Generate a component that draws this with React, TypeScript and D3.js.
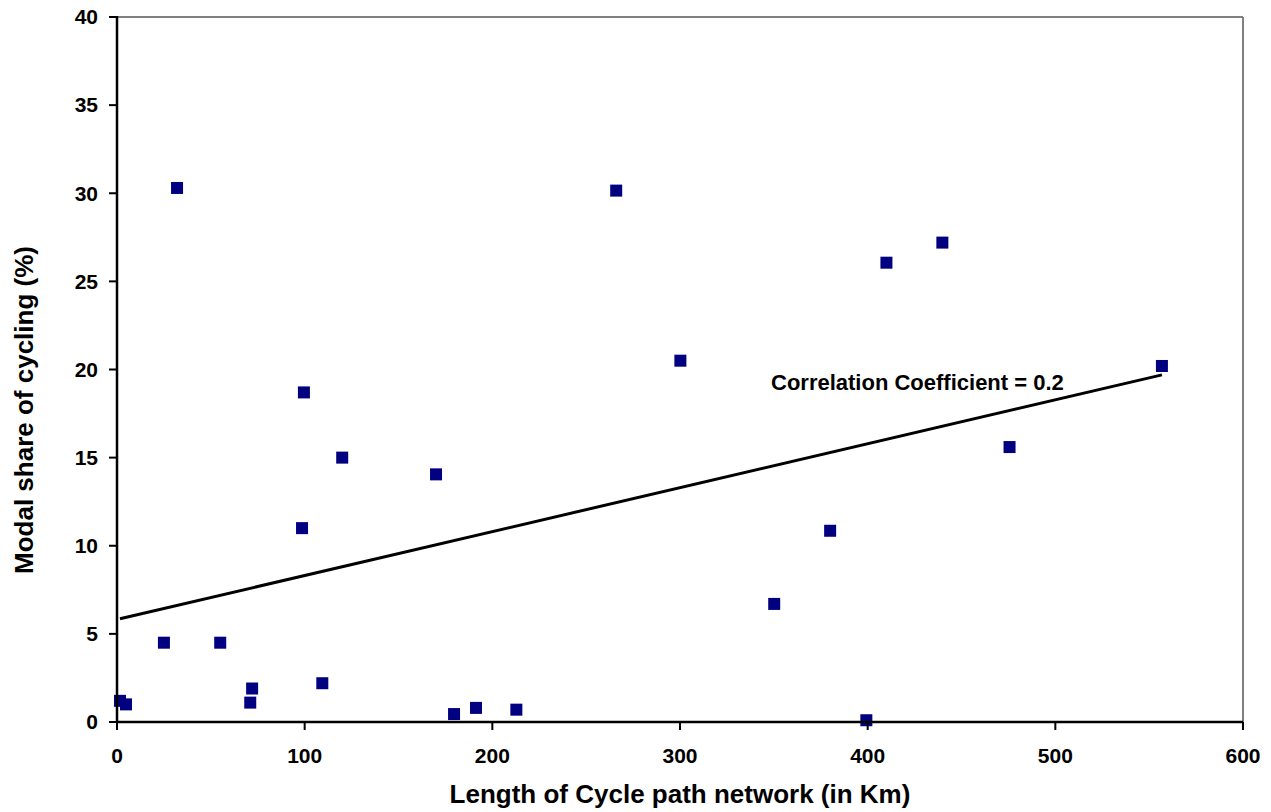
import React from "react";
import * as d3 from "d3";

const pathLengthKm: number[] = [1.6, 4.8, 25, 32, 55, 71, 72, 98.6, 99.6, 109.4, 120, 170, 179.6, 191.3, 212.8, 266, 300.2, 350.2, 380, 399.3, 410, 439.8, 475.6, 556.8];
const modalShare: number[] = [1.2, 1.0, 4.5, 30.3, 4.5, 1.1, 1.9, 11.0, 18.7, 2.2, 15.0, 14.05, 0.45, 0.8, 0.7, 30.15, 20.5, 6.7, 10.85, 0.1, 26.06, 27.2, 15.6, 20.2];
const xTicks: number[] = [0, 100, 200, 300, 400, 500, 600];
const yTicks: number[] = [0, 5, 10, 15, 20, 25, 30, 35, 40];
const xTitle = "Length of Cycle path network (in Km)";
const yTitle = "Modal share of cycling (%)";
const annotation = "Correlation Coefficient = 0.2";

const W = 1271;
const H = 812;
const L = 117, R = 1243, T = 17, B = 722;
const FONT = "'Liberation Sans', Arial, sans-serif";

export default function App() {
  const x = d3.scaleLinear().domain([0, 600]).range([L, R]);
  const y = d3.scaleLinear().domain([0, 40]).range([B, T]);

  const n = pathLengthKm.length;
  const mx = d3.mean(pathLengthKm) as number;
  const my = d3.mean(modalShare) as number;
  let sxy = 0, sxx = 0;
  for (let i = 0; i < n; i++) {
    sxy += (pathLengthKm[i] - mx) * (modalShare[i] - my);
    sxx += (pathLengthKm[i] - mx) ** 2;
  }
  const slope = sxy / sxx;
  const icpt = my - slope * mx;
  const [x0, x1] = d3.extent(pathLengthKm) as [number, number];
  const trend = d3.line<number>().x((v) => x(v)).y((v) => y(icpt + slope * v))([x0, x1]) as string;

  const size = 12;

  return (
    <svg width={W} height={H} style={{ position: "absolute", left: 0, top: 0, background: "#fff" }} fontFamily={FONT}>
      <rect x={0} y={0} width={W} height={H} fill="#fff" />
      <line x1={L} y1={T} x2={R} y2={T} stroke="#808080" strokeWidth={2} />
      <line x1={R} y1={T} x2={R} y2={B} stroke="#808080" strokeWidth={2} />
      <path d={trend} stroke="#000" strokeWidth={3} fill="none" />
      {pathLengthKm.map((v, i) => (
        <rect key={i} x={x(v) - size / 2} y={y(modalShare[i]) - size / 2} width={size} height={size} fill="#000080" />
      ))}
      <line x1={L} y1={T - 1} x2={L} y2={B + 1} stroke="#000" strokeWidth={2.5} />
      <line x1={L - 1} y1={B} x2={R} y2={B} stroke="#000" strokeWidth={2.5} />
      {yTicks.map((t) => (
        <g key={"y" + t}>
          <line x1={L - 8} x2={L} y1={y(t)} y2={y(t)} stroke="#000" strokeWidth={2} />
          <text x={98} y={y(t)} dy="0.35em" textAnchor="end" fontSize={21} fontWeight="bold" fill="#000">{t}</text>
        </g>
      ))}
      {xTicks.map((t) => (
        <g key={"x" + t}>
          <line x1={x(t)} x2={x(t)} y1={B} y2={B + 8} stroke="#000" strokeWidth={2} />
          <text x={x(t)} y={763} textAnchor="middle" fontSize={21} fontWeight="bold" fill="#000">{t}</text>
        </g>
      ))}
      <text x={(L + R) / 2} y={803} textAnchor="middle" fontSize={26} fontWeight="bold" fill="#000">{xTitle}</text>
      <text transform={`translate(33, 410) rotate(-90)`} textAnchor="middle" fontSize={26} fontWeight="bold" fill="#000">{yTitle}</text>
      <text x={771} y={390} fontSize={22} fontWeight="bold" fill="#000">{annotation}</text>
    </svg>
  );
}
